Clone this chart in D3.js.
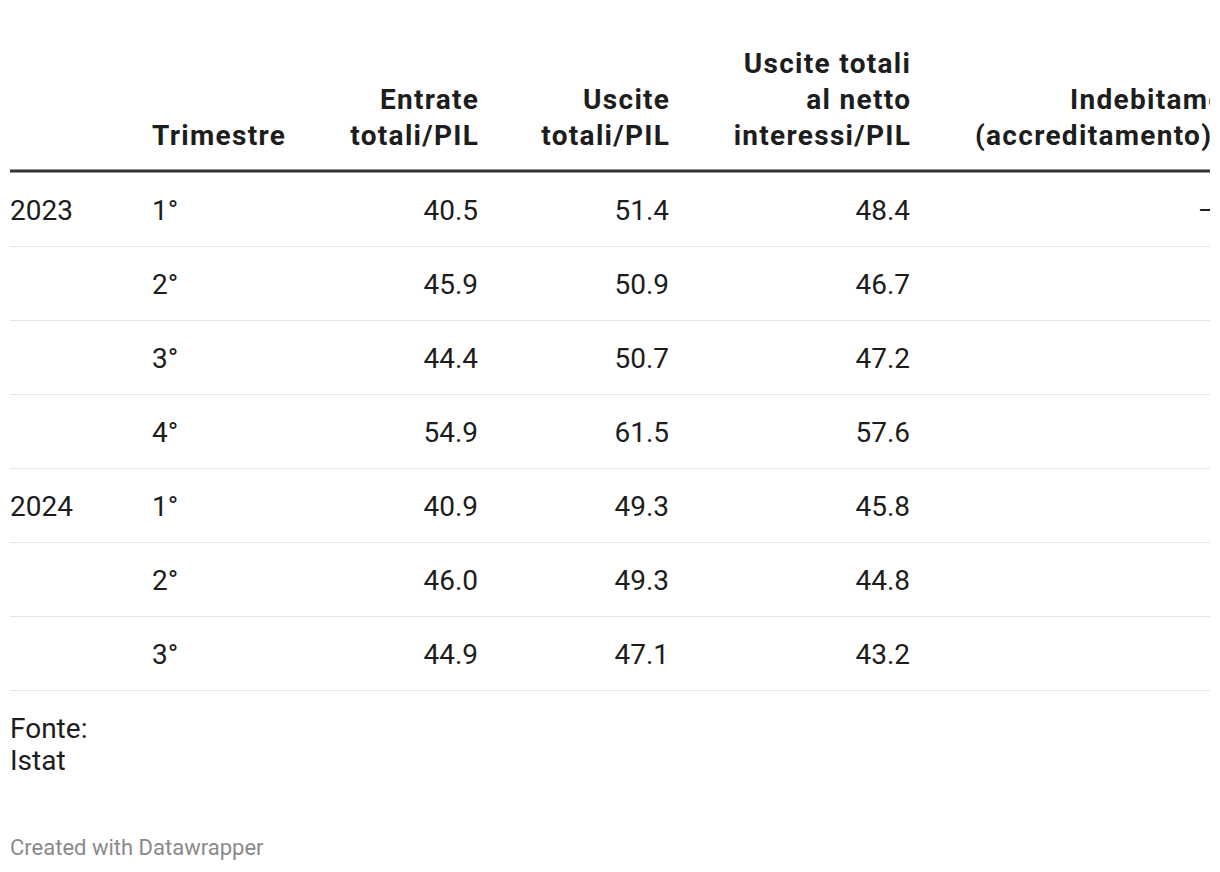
<!DOCTYPE html>
<html>
<head>
<meta charset="utf-8">
<script src="https://cdn.jsdelivr.net/npm/d3@7"></script>
<style>
  html, body { margin: 0; padding: 0; background: #fff; }
  svg { display: block; font-family: Roboto, "Noto Sans", sans-serif; }
</style>
</head>
<body>
<svg id="chart" width="1220" height="872"></svg>
<script>
const years = ["2023", "", "", "", "2024", "", ""];
const quarters = ["1°", "2°", "3°", "4°", "1°", "2°", "3°"];
const entrate = [40.5, 45.9, 44.4, 54.9, 40.9, 46.0, 44.9];
const uscite = [51.4, 50.9, 50.7, 61.5, 49.3, 49.3, 47.1];
const usciteNetto = [48.4, 46.7, 47.2, 57.6, 45.8, 44.8, 43.2];
const indebitamento = [-10.9, -5.0, -6.3, -6.6, -8.4, -3.3, -2.2];

const headers = [
  { lines: [""], align: "start", key: "year" },
  { lines: ["Trimestre"], align: "start", key: "quarter" },
  { lines: ["Entrate", "totali/PIL"], align: "end", key: "entrate" },
  { lines: ["Uscite", "totali/PIL"], align: "end", key: "uscite" },
  { lines: ["Uscite totali", "al netto", "interessi/PIL"], align: "end", key: "usciteNetto" },
  { lines: ["Indebitamento", "(accreditamento)/PIL"], align: "end", key: "indebitamento" }
];
const sourceLines = ["Fonte:", "Istat"];
const credit = "Created with Datawrapper";

const columnX = { year: 10, quarter: 152, entrate: 478, uscite: 669, usciteNetto: 910, indebitamento: 1268 };

const fmt = d3.format(".1f");
const rows = quarters.map((q, i) => ({
  year: years[i], quarter: q,
  entrate: fmt(entrate[i]), uscite: fmt(uscite[i]),
  usciteNetto: fmt(usciteNetto[i]), indebitamento: fmt(indebitamento[i])
}));

const svg = d3.select("#chart");
svg.append("defs").append("clipPath").attr("id", "clip")
  .append("rect").attr("x", 0).attr("y", 0).attr("width", 1210).attr("height", 872);

const g = svg.append("g").attr("clip-path", "url(#clip)");

const y = d3.scaleBand().domain(d3.range(rows.length)).range([173, 691]).padding(0);

// header
const headerBaseline = 145, lineH = 36;
headers.forEach(h => {
  const n = h.lines.length;
  h.lines.forEach((ln, j) => {
    g.append("text")
      .attr("x", columnX[h.key] + (h.align === "end" ? 1.3 : 0))
      .attr("y", headerBaseline - (n - 1 - j) * lineH)
      .attr("text-anchor", h.align)
      .attr("font-size", 28)
      .attr("font-weight", 700)
      .attr("letter-spacing", 1.3)
      .attr("fill", "#1d1d1d")
      .text(ln);
  });
});

// thick header line
g.append("rect").attr("x", 10).attr("y", 169.5).attr("width", 1200).attr("height", 3).attr("fill", "#333333");

// rows
rows.forEach((r, i) => {
  const top = y(i);
  const base = top + y.bandwidth() / 2 + 9.5;
  headers.forEach(h => {
    g.append("text")
      .attr("x", columnX[h.key])
      .attr("y", base)
      .attr("text-anchor", h.align)
      .attr("font-size", 28)
      .attr("fill", "#1d1d1d")
      .text(r[h.key]);
  });
  g.append("rect").attr("x", 10).attr("y", top + y.bandwidth() - 1).attr("width", 1200).attr("height", 1).attr("fill", "#e6e6e6");
});

// source
sourceLines.forEach((s, j) => {
  svg.append("text").attr("x", 10).attr("y", 738 + j * 32)
    .attr("font-size", 28).attr("fill", "#1d1d1d").text(s);
});

svg.append("text").attr("x", 10).attr("y", 855)
  .attr("font-size", 22).attr("fill", "#8a8a8a").text(credit);
</script>
</body>
</html>
